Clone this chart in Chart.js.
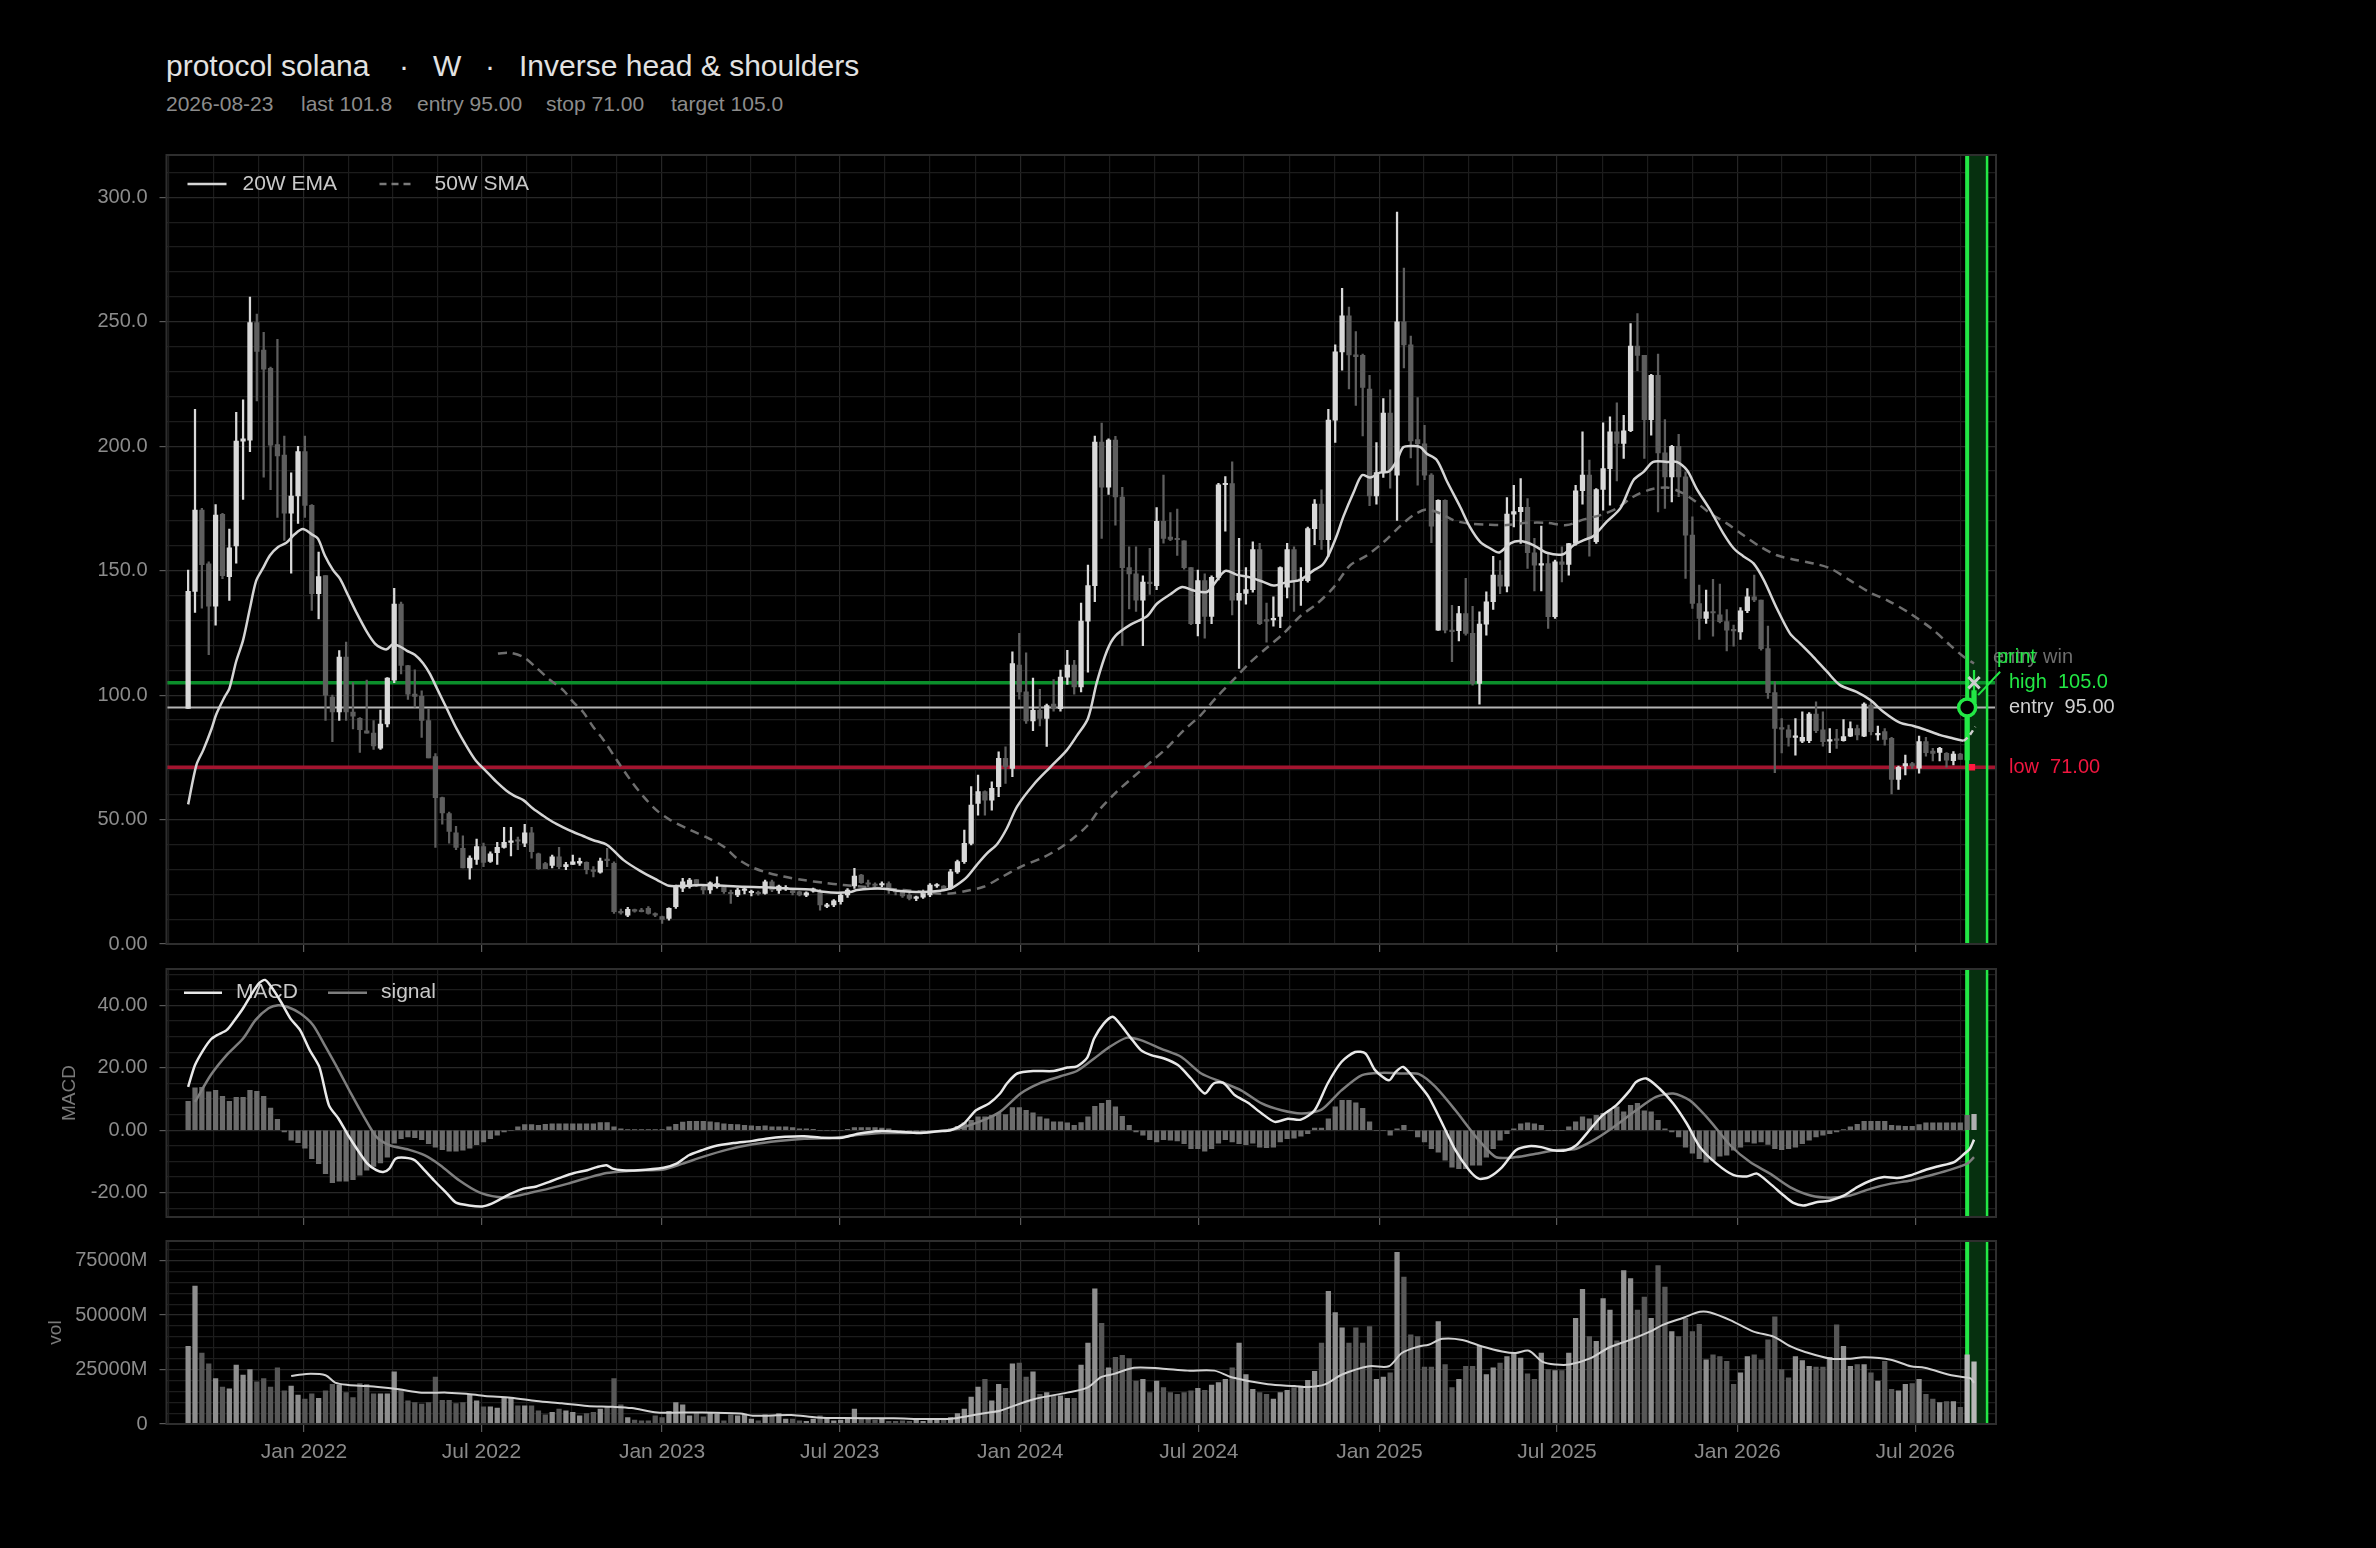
<!DOCTYPE html>
<html>
<head>
<meta charset="utf-8">
<script src="https://cdn.jsdelivr.net/npm/chart.js@4.4.1/dist/chart.umd.min.js"></script>
<style>
  html, body { margin: 0; padding: 0; background: #000; }
  body { width: 2376px; height: 1548px; position: relative; overflow: hidden; font-family: "Liberation Sans", Arial, sans-serif; }
  .t { position: absolute; white-space: pre; }
  .title { font-size: 30px; line-height: 30px; color: #e2e2e2; top: 51px; }
  .sub { font-size: 21px; line-height: 21px; color: #8c8c8c; top: 93px; }
  canvas { position: absolute; left: 0; }
</style>
</head>
<body>
<div class="t title" style="left:166px">protocol solana</div>
<div class="t title" style="left:399px">·</div>
<div class="t title" style="left:433px">W</div>
<div class="t title" style="left:485px">·</div>
<div class="t title" style="left:519px">Inverse head &amp; shoulders</div>
<div class="t sub" style="left:166px">2026-08-23</div>
<div class="t sub" style="left:301px">last 101.8</div>
<div class="t sub" style="left:417px">entry 95.00</div>
<div class="t sub" style="left:546px">stop 71.00</div>
<div class="t sub" style="left:671px">target 105.0</div>

<canvas id="cMain" width="2376" height="830" style="top:140px"></canvas>
<canvas id="cMacd" width="2376" height="270" style="top:960px"></canvas>
<canvas id="cVol" width="2376" height="280" style="top:1230px"></canvas>

<script>
// weekly bars, week 0 = 2021-09-05
const START = '2021-09-05';

const OPEN = [
  94.6, 141.7, 174.3, 152.7, 135.7, 172.6, 147.6, 159.9, 202.0, 202.4,
  249.7, 238.6, 231.3, 200.7, 196.4, 173.1, 180.0, 197.8, 176.2, 140.8,
  148.0, 99.2, 93.2, 115.3, 93.2, 90.7, 85.6, 84.7, 78.7, 88.4,
  106.0, 136.6, 111.9, 100.4, 99.5, 89.8, 75.3, 58.8, 52.4, 44.7,
  38.4, 30.6, 34.0, 39.1, 33.2, 36.7, 38.8, 40.8, 41.8, 40.5,
  44.7, 36.2, 32.3, 31.6, 35.0, 31.1, 32.0, 32.5, 32.8, 29.6,
  28.9, 34.0, 32.4, 13.0, 11.6, 13.5, 13.5, 14.3, 12.0, 11.0,
  10.3, 15.0, 22.4, 23.0, 25.9, 23.0, 21.7, 23.0, 22.8, 20.6,
  19.7, 21.5, 20.6, 20.6, 20.3, 25.0, 21.5, 22.2, 21.5, 21.0,
  19.6, 21.2, 21.2, 15.1, 15.7, 17.0, 19.7, 23.3, 27.7, 24.3,
  23.7, 23.7, 24.3, 21.3, 21.0, 19.7, 18.3, 18.8, 19.7, 23.3,
  23.3, 22.3, 29.0, 33.1, 40.4, 56.5, 61.2, 57.8, 63.2, 74.6,
  70.5, 112.1, 101.3, 89.6, 93.9, 90.6, 96.4, 94.5, 107.2, 112.1,
  103.3, 129.7, 144.0, 201.7, 183.5, 202.5, 179.6, 151.2, 148.7, 138.1,
  145.4, 144.0, 169.8, 163.5, 162.5, 162.0, 151.2, 128.7, 146.0, 131.6,
  147.3, 184.5, 185.0, 138.1, 140.9, 142.4, 158.5, 130.0, 130.2, 131.6,
  143.4, 158.5, 146.0, 146.0, 166.9, 176.7, 162.4, 210.5, 237.9, 252.4,
  236.7, 236.5, 223.0, 180.0, 189.4, 213.3, 188.4, 250.0, 240.7, 202.7,
  201.0, 188.4, 126.1, 178.3, 126.1, 125.9, 132.8, 124.8, 104.7, 128.5,
  137.5, 148.2, 143.8, 172.7, 173.7, 175.4, 157.2, 152.2, 152.8, 131.5,
  153.5, 152.5, 160.9, 182.1, 188.4, 161.6, 182.6, 191.0, 205.8, 201.1,
  206.2, 240.2, 236.5, 210.7, 228.5, 197.3, 187.7, 200.0, 187.7, 164.3,
  136.8, 130.8, 133.5, 132.3, 129.5, 126.1, 125.4, 133.9, 139.5, 138.2,
  118.7, 101.0, 86.6, 86.0, 83.0, 81.5, 81.7, 92.4, 86.0, 81.5,
  82.2, 81.7, 83.5, 86.6, 83.5, 96.0, 84.0, 85.3, 82.6, 66.1,
  71.5, 72.5, 70.6, 81.3, 77.5, 77.0, 76.6, 73.7, 76.3, 74.0,
  97.0
];
const HIGH = [
  150.2, 214.8, 175.0, 153.5, 176.5, 173.0, 166.7, 213.6, 218.6, 259.9,
  253.1, 245.8, 231.8, 242.9, 204.1, 189.3, 200.0, 204.1, 176.5, 157.5,
  148.0, 100.0, 117.9, 121.3, 105.0, 91.0, 106.0, 89.8, 94.0, 107.0,
  142.9, 137.4, 112.0, 110.2, 101.7, 94.6, 76.5, 59.0, 53.0, 47.3,
  43.5, 35.4, 42.2, 40.5, 37.0, 40.8, 46.9, 46.9, 43.0, 48.1,
  46.9, 36.5, 32.8, 35.7, 38.8, 32.8, 35.7, 34.5, 33.0, 31.1,
  34.5, 38.4, 33.0, 14.0, 14.7, 14.0, 14.3, 15.0, 12.5, 11.2,
  14.5, 23.7, 26.4, 26.4, 26.0, 23.7, 25.0, 27.0, 23.3, 21.7,
  22.4, 23.0, 21.7, 21.3, 25.7, 25.7, 23.7, 23.5, 22.2, 21.3,
  21.0, 22.5, 22.0, 16.3, 17.8, 20.3, 22.3, 30.4, 28.0, 25.7,
  24.6, 25.0, 25.0, 22.3, 21.7, 20.6, 19.3, 21.7, 24.3, 24.3,
  23.5, 30.0, 33.7, 45.8, 63.2, 67.9, 61.5, 65.2, 77.2, 79.2,
  117.4, 124.8, 117.0, 106.8, 102.3, 96.4, 106.2, 110.1, 118.0, 114.0,
  137.0, 152.2, 204.1, 209.3, 203.0, 204.0, 183.5, 159.6, 159.6, 147.9,
  159.0, 175.3, 188.4, 173.3, 174.7, 162.0, 151.2, 150.2, 148.7, 147.9,
  185.1, 187.8, 193.7, 163.0, 151.2, 161.6, 161.0, 137.0, 139.5, 151.5,
  161.0, 159.6, 151.2, 167.5, 178.6, 182.5, 214.8, 240.7, 263.4, 255.9,
  246.1, 237.0, 228.5, 201.5, 219.1, 222.7, 294.1, 271.6, 244.2, 219.5,
  208.4, 189.0, 178.5, 178.5, 136.1, 135.7, 146.9, 135.7, 133.5, 141.5,
  155.8, 154.0, 179.4, 184.3, 187.0, 179.0, 163.0, 167.9, 156.6, 154.2,
  159.6, 161.0, 184.3, 205.8, 194.4, 183.0, 209.4, 211.8, 217.4, 212.4,
  249.3, 253.3, 236.5, 228.9, 237.0, 210.7, 200.4, 204.8, 189.7, 171.6,
  144.2, 142.2, 146.5, 144.6, 134.4, 128.1, 135.2, 142.8, 148.2, 138.2,
  127.7, 105.4, 90.6, 88.0, 90.6, 93.3, 93.0, 97.3, 93.3, 86.6,
  86.2, 90.2, 89.3, 88.0, 96.9, 97.7, 87.6, 86.6, 83.0, 71.5,
  75.9, 73.0, 83.5, 83.0, 78.6, 79.0, 76.9, 77.3, 76.6, 97.5,
  110.0
];
const LOW = [
  94.6, 133.2, 134.9, 116.2, 128.1, 146.8, 138.0, 153.0, 178.6, 197.8,
  218.2, 187.6, 182.5, 171.4, 162.1, 149.0, 169.0, 171.4, 134.0, 130.6,
  89.8, 81.3, 89.8, 89.8, 86.4, 77.0, 84.7, 78.2, 78.2, 87.2,
  105.0, 108.5, 98.3, 95.2, 83.0, 74.8, 38.8, 48.1, 40.5, 37.9,
  30.6, 26.0, 32.0, 31.1, 32.8, 32.0, 38.5, 35.4, 37.9, 39.1,
  34.5, 30.0, 30.3, 30.6, 30.3, 29.9, 32.0, 31.6, 28.2, 27.0,
  28.5, 31.1, 12.3, 12.0, 11.0, 12.8, 12.9, 12.0, 11.0, 8.3,
  9.6, 14.3, 21.0, 22.4, 23.0, 20.1, 20.3, 22.4, 20.3, 16.3,
  19.0, 20.1, 19.3, 19.6, 20.0, 21.0, 20.3, 21.5, 19.7, 19.3,
  19.0, 20.8, 13.6, 14.6, 15.0, 16.0, 18.7, 22.3, 24.3, 23.0,
  22.5, 23.0, 20.3, 19.7, 18.7, 17.7, 17.4, 18.3, 19.0, 22.7,
  21.3, 21.9, 28.4, 32.4, 39.8, 51.8, 51.8, 53.8, 59.2, 64.5,
  67.2, 98.4, 88.6, 85.7, 87.6, 79.4, 93.5, 93.5, 104.3, 100.4,
  101.3, 109.2, 137.5, 163.0, 180.6, 168.3, 119.9, 134.6, 133.6, 119.9,
  140.5, 142.4, 161.0, 162.0, 156.1, 150.6, 128.3, 123.8, 122.9, 128.7,
  146.3, 165.9, 132.2, 110.7, 136.5, 141.4, 128.3, 121.3, 127.7, 127.1,
  139.0, 133.6, 136.0, 145.4, 160.4, 158.5, 155.7, 201.5, 230.5, 223.0,
  216.4, 204.1, 176.1, 176.7, 187.5, 183.1, 170.2, 231.5, 195.3, 184.3,
  186.6, 161.2, 126.0, 125.0, 113.4, 121.8, 124.1, 104.0, 96.4, 124.1,
  134.4, 140.8, 141.5, 167.6, 160.9, 150.9, 141.9, 141.9, 126.8, 130.8,
  145.5, 148.2, 160.2, 176.7, 155.8, 160.9, 174.3, 176.3, 186.1, 195.1,
  205.8, 230.3, 195.1, 204.4, 173.6, 175.0, 177.6, 179.7, 146.9, 134.8,
  122.4, 128.8, 123.7, 129.0, 117.8, 119.7, 122.4, 133.1, 137.5, 118.1,
  98.7, 68.8, 76.8, 79.5, 75.9, 80.9, 80.9, 84.9, 79.5, 76.9,
  78.6, 81.5, 83.3, 82.0, 83.3, 84.0, 81.9, 79.9, 60.3, 62.1,
  67.9, 70.5, 68.6, 75.5, 73.6, 73.6, 71.0, 71.9, 74.2, 73.5,
  96.0
];
const CLOSE = [
  141.7, 174.3, 152.4, 135.7, 172.3, 148.0, 159.2, 202.1, 203.0, 249.7,
  238.1, 231.0, 200.4, 196.1, 173.1, 180.0, 197.8, 176.2, 140.8, 147.6,
  100.0, 93.2, 115.3, 93.2, 91.5, 86.1, 84.7, 79.6, 88.4, 106.8,
  136.6, 111.9, 100.4, 99.5, 89.8, 74.8, 58.8, 52.7, 45.2, 38.8,
  30.6, 34.5, 39.1, 32.8, 36.2, 38.8, 40.8, 41.5, 41.3, 44.7,
  37.1, 30.3, 30.3, 35.0, 31.1, 31.9, 33.0, 33.2, 29.9, 29.2,
  33.3, 33.5, 13.0, 12.5, 13.9, 13.2, 13.0, 12.3, 11.6, 9.9,
  14.3, 23.0, 25.0, 25.7, 23.7, 21.7, 24.6, 24.3, 21.0, 20.2,
  21.7, 22.2, 21.0, 20.2, 25.0, 21.7, 23.3, 22.6, 20.6, 19.7,
  20.6, 22.2, 15.7, 15.7, 17.3, 19.7, 21.7, 27.3, 24.6, 24.0,
  23.5, 24.3, 21.7, 20.9, 19.3, 18.3, 18.8, 20.6, 23.7, 23.7,
  21.7, 29.0, 33.1, 40.4, 55.8, 61.2, 57.8, 62.5, 74.6, 71.2,
  112.7, 101.3, 89.6, 93.9, 90.6, 95.8, 94.5, 107.2, 112.1, 103.3,
  129.7, 144.0, 201.7, 183.5, 202.5, 179.6, 151.2, 148.7, 138.1, 145.4,
  144.8, 169.8, 163.0, 162.5, 162.4, 151.2, 128.7, 146.0, 131.6, 147.3,
  184.5, 185.0, 138.1, 140.9, 142.4, 158.5, 128.7, 129.7, 130.7, 151.2,
  158.5, 146.0, 146.5, 166.9, 176.7, 162.4, 210.5, 237.9, 252.4, 236.7,
  236.0, 223.6, 180.0, 189.4, 213.3, 190.4, 250.0, 240.7, 202.1, 201.0,
  188.4, 167.9, 178.3, 126.1, 125.5, 132.8, 124.8, 104.7, 128.5, 137.5,
  148.2, 143.8, 172.7, 173.7, 175.4, 157.2, 152.2, 152.8, 131.5, 153.5,
  152.5, 160.9, 182.1, 188.4, 162.9, 182.6, 191.0, 205.8, 201.1, 206.2,
  240.2, 236.5, 210.7, 228.5, 197.3, 187.7, 200.0, 187.7, 164.3, 136.8,
  130.8, 133.5, 133.0, 129.5, 126.1, 125.8, 133.9, 139.5, 138.2, 118.7,
  101.0, 86.6, 86.3, 83.0, 83.5, 83.0, 92.4, 85.7, 81.3, 82.0,
  81.8, 83.3, 86.6, 84.0, 96.4, 85.3, 84.5, 82.2, 66.1, 71.0,
  72.5, 71.5, 81.3, 76.9, 76.6, 78.6, 73.9, 76.3, 74.2, 97.0,
  101.8
];
// volume in millions
const VOLUME = [
  35600, 63300, 32600, 27600, 20800, 17000, 16200, 27000, 22400, 25000,
  19400, 20800, 17000, 25800, 15200, 17400, 13300, 11400, 13900, 11800,
  15200, 18200, 17900, 14400, 12100, 18500, 18200, 13900, 13900, 13900,
  23900, 15900, 10600, 9800, 9100, 9800, 21500, 10900, 10900, 9400,
  9800, 13600, 10600, 7900, 7900, 7300, 12100, 12100, 8300, 8300,
  8300, 6100, 4200, 5300, 6800, 6100, 5300, 3800, 4800, 5300,
  6800, 7900, 20800, 8800, 3000, 1800, 1500, 1500, 3800, 3000,
  5800, 9800, 8800, 3800, 5300, 3300, 5300, 4500, 1500, 4200,
  3800, 4500, 2300, 1500, 4200, 3800, 4800, 2300, 2300, 1500,
  1200, 2300, 3800, 3000, 1500, 1800, 3000, 6800, 2300, 2700,
  1800, 2300, 1200, 1200, 1500, 1200, 1800, 1200, 2300, 1800,
  1800, 3000, 4800, 6800, 12400, 17000, 20500, 10600, 18200, 16400,
  27600, 28000, 21500, 23900, 13600, 14400, 12900, 12900, 11800, 11800,
  27000, 37100, 62100, 46200, 25800, 30600, 31500, 30000, 19700, 20500,
  14400, 19700, 16700, 14400, 13600, 14400, 15200, 16400, 15500, 17900,
  19000, 20500, 25800, 37100, 22700, 15900, 14400, 13600, 11400, 14400,
  15500, 16700, 17400, 20000, 24200, 37100, 60900, 51200, 44200, 37100,
  44200, 37100, 44700, 20500, 21500, 23500, 78800, 67400, 40900, 40100,
  26100, 26100, 47000, 27300, 16700, 20500, 26500, 26500, 35600, 22700,
  25800, 28000, 31000, 32600, 30300, 23000, 20500, 32600, 25000, 24500,
  24500, 32600, 48500, 61800, 40100, 37900, 57600, 52300, 38200, 70400,
  66700, 52300, 58300, 48500, 72700, 62900, 42400, 40100, 48500, 42400,
  45800, 29500, 31800, 31000, 28800, 18200, 23500, 31000, 31800, 29500,
  38600, 49200, 25000, 21200, 31000, 29100, 26500, 26100, 26100, 30600,
  45500, 35600, 26500, 27300, 27300, 23500, 19700, 28800, 15900, 15200,
  18200, 18500, 20500, 13600, 11400, 9800, 10300, 10300, 7600, 31800,
  28500
];
const MACD_HIST = [
  9.3, 13.6, 13.8, 12.3, 12.8, 10.9, 9.3, 10.6, 10.6, 12.8,
  12.5, 10.9, 7.1, 3.5, -0.5, -3.2, -4.0, -5.7, -9.1, -10.7,
  -13.9, -16.8, -16.3, -16.3, -15.8, -14.4, -12.8, -11.6, -10.5, -8.6,
  -4.1, -2.7, -2.1, -2.4, -3.0, -4.3, -5.4, -6.2, -6.7, -6.7,
  -6.4, -5.7, -4.6, -3.7, -2.7, -1.6, -0.5, 0, 1.1, 1.8,
  1.8, 1.6, 1.9, 2.1, 2.1, 2.1, 2.1, 2.1, 2.1, 2.1,
  2.5, 2.5, 1.1, 0.5, 0.2, 0.2, 0.2, 0.2, 0.2, 0.2,
  1.1, 1.9, 2.6, 2.9, 2.9, 2.9, 2.7, 2.5, 2.1, 1.9,
  1.8, 1.6, 1.4, 1.3, 1.4, 1.1, 1.1, 1.1, 0.9, 0.5,
  0.5, 0.3, 0, 0, 0, 0, 0.3, 0.9, 0.9, 0.9,
  0.9, 0.7, 0.5, -0.2, -0.5, -0.7, -0.9, -0.9, -0.5, -0.3,
  0, 0.5, 1.3, 2.4, 3.2, 4.3, 4.3, 4.8, 5.4, 5.0,
  7.3, 7.3, 6.4, 5.6, 4.3, 3.7, 2.7, 2.7, 2.4, 1.6,
  2.5, 4.3, 7.7, 8.6, 9.6, 7.5, 4.5, 1.6, -0.5, -1.6,
  -3.0, -3.7, -3.0, -3.2, -3.4, -4.3, -5.9, -5.9, -6.7, -5.9,
  -4.1, -3.0, -3.7, -4.3, -4.6, -4.1, -5.4, -5.6, -5.4, -3.7,
  -2.7, -2.5, -1.9, -1.1, 0.7, 0.7, 3.7, 7.5, 9.6, 9.6,
  8.8, 7.0, 2.7, 0, 0, -1.6, 0.5, 1.6, 0, -2.1,
  -3.7, -5.9, -7.0, -9.6, -11.8, -12.3, -12.3, -11.2, -11.2, -8.6,
  -5.9, -3.2, -1.1, 0.5, 2.1, 2.4, 2.1, 1.6, 0, 0,
  0, 1.1, 2.7, 4.3, 3.7, 4.8, 5.4, 6.4, 7.5, 5.9,
  8.0, 8.6, 6.2, 5.9, 3.2, 0.5, -0.5, -2.1, -5.4, -7.3,
  -9.1, -10.2, -9.6, -8.3, -8.0, -6.4, -5.4, -3.7, -4.1, -3.7,
  -4.5, -5.9, -6.2, -5.9, -5.4, -4.3, -3.2, -2.1, -1.6, -1.1,
  -0.5, 0.2, 1.1, 1.9, 2.9, 2.9, 2.9, 2.9, 1.6, 1.4,
  1.3, 1.3, 1.8, 2.4, 2.4, 2.4, 2.4, 2.4, 2.4, 4.8,
  5.1
];

// indicator lines as [week, value]
const EMA20 = [[0,56.1],[1.2,71.9],[2.2,77.9],[3.4,86.4],[4.1,92.3],[5.3,99.2],[6,102.6],[7,113.6],[8,122.1],[9,134.9],[9.9,145.9],[10.9,151],[11.9,156.1],[13.1,159.5],[14.3,161.2],[15.5,164.6],[16.7,166.7],[18,164.6],[18.9,162.9],[19.9,156.1],[21.1,150.2],[22.1,146.8],[23.3,140],[24.5,133.2],[26,125.5],[27.2,120.7],[28.1,119],[28.9,118.4],[29.8,120.4],[30.8,119.6],[31.8,117.9],[33,116.2],[34.2,112.8],[35.2,108.5],[36.1,103.4],[37.6,94.9],[39.1,86.4],[40.5,79.6],[41.9,73.6],[43.4,69.4],[44.9,65.1],[46.3,61.7],[47.5,59.5],[48.8,57.8],[50.2,54.4],[51.7,51.5],[53.1,49],[54.6,46.9],[56,45.1],[57.5,43.4],[58.9,41.8],[61,39.8],[63.4,33.7],[65.8,29.4],[68.3,25.7],[70,23.4],[71.7,23.3],[74.6,23.7],[78,23.4],[80.9,23],[83.8,22.8],[87.7,22.2],[90.6,21.9],[92.5,21],[94.5,20.6],[96.4,20.9],[97.4,21.7],[99.3,22.2],[101.3,22.2],[103.2,21.4],[105.1,21],[107.1,20.9],[109.5,21.4],[111,22.3],[111.9,23.7],[113.4,27],[114.8,31.7],[116.3,36.4],[117.8,40.2],[119.2,46.5],[120.7,55.3],[123.1,64.1],[125.5,71],[127.9,77.8],[129.4,83.7],[131,90.6],[132.3,105.2],[133.8,118],[135,123.8],[137.2,128.3],[139.6,131.7],[141,136.6],[143,140.5],[144.7,143.4],[146.4,142],[148.3,141.4],[149.3,144.4],[151,149.9],[152.7,148.3],[154.6,147.3],[156.6,145.4],[158,144],[160,145.4],[161.9,146.3],[163.9,150.2],[165.1,152.2],[166,156.1],[167.2,163.9],[168.2,171.8],[169.7,181.6],[170.9,188.4],[172.1,187.4],[173.5,189.4],[174.8,189.8],[176,194.3],[176.9,199.6],[178.4,200.1],[179.4,199.6],[180.3,197.1],[181.8,194.4],[183.3,185.7],[185.2,175.6],[186.6,167.6],[188.1,161.6],[189.6,158.9],[190.9,157.3],[192.5,161],[194,161.9],[195.9,160.2],[197.8,157.2],[200.2,156.6],[201.7,160.2],[203.2,162.3],[204.6,163.9],[206.5,169.6],[208.5,175],[210.4,186.3],[211.9,189.7],[213.3,193.7],[215.3,193.7],[216.7,193.7],[218.2,190.4],[219.6,183],[221.6,174.3],[223.5,165],[225,159],[226.4,155.8],[227.9,152.9],[229.4,146.2],[231.3,134.8],[233.2,124.8],[234.7,120.7],[236.6,115.4],[238.6,109.4],[240.5,104],[242.9,101.3],[244.9,98],[246.8,93.3],[249.2,88.9],[251.2,87.6],[253.1,85.9],[255.1,83.9],[257,82.6],[258.5,81.6]];
const EMA20_TAIL = [[258.5,81.6],[259.2,83.3],[260.2,87.3]];
const SMA50 = [[45.1,116.7],[46.8,117],[48.8,115.3],[50.7,111],[52.6,106.3],[54.6,102],[56,97.4],[57.5,93.2],[58.9,87.5],[60.5,81.9],[62.4,73.9],[64.4,65.9],[66.3,59.2],[68.3,53.5],[70.2,49.8],[73.1,45.8],[75.5,42.8],[78,39.1],[79.9,34.4],[81.9,31.1],[83.8,29.1],[86.7,27.1],[89.6,25.7],[92.5,24.6],[95.4,23.7],[98.3,23],[101.3,22.3],[104.2,21.7],[107.1,20.9],[109,20.3],[111,20.3],[113.4,21.4],[115.8,23],[118.2,26.5],[121.2,31],[124.5,34.8],[127,38.7],[128.9,42.6],[130.9,47.5],[132.8,54.4],[135.2,61.2],[137.6,67.1],[140.1,73],[142.5,78.8],[144.9,85.7],[147.4,91.9],[149.8,99.4],[152.2,106.2],[154.6,113.1],[157,118.9],[159.5,124.8],[161.9,131.7],[164.3,136.6],[166.8,143.4],[169.2,152.2],[171.6,156.1],[174.1,161.6],[176.5,168],[178.4,172.3],[180.3,174.6],[182.3,173],[184.2,170.3],[186.2,169],[189.1,168.5],[192,168.3],[194.9,169.2],[197.8,169.2],[200.7,168.3],[203.2,170.6],[205.6,172.3],[208,175],[210.4,179.7],[212.9,182.6],[215.3,183.4],[217.2,181.7],[219.2,178.3],[221.6,173],[224,169],[226.4,164.3],[228.9,159.6],[231.3,156.2],[233.7,154.5],[236.6,152.9],[239,151],[242,146],[245,141],[247.3,138.2],[250.7,132.8],[254.1,126.1],[256.5,120.1],[258.5,115.4],[260,112.7]];
const MACD_LINE = [[0,13.9],[1,20.9],[2.2,25.7],[3.3,29.1],[4.2,30.5],[5.6,32.1],[6.6,34.8],[8,39.1],[9.3,43.9],[10.3,47.1],[11.2,48.2],[12.1,46],[13.5,41.2],[14.9,35.8],[16.3,32.1],[17.7,25.7],[19.1,20.3],[20.5,8],[21.9,3.7],[23.3,-1.6],[24.7,-6.4],[26.1,-10.7],[27.4,-12.8],[28.4,-13.4],[29.3,-12.3],[30.2,-9.1],[31.6,-8.8],[33,-9.6],[34.4,-12.8],[35.8,-16.1],[37.7,-20.3],[39,-23.2],[40.9,-24.1],[42.8,-24.4],[44.2,-23.5],[45.6,-21.9],[47,-20.3],[48.8,-18.7],[50.7,-18],[52.5,-16.6],[54.4,-15],[56.2,-13.7],[58.1,-12.8],[59.5,-11.8],[60.9,-11.2],[61.8,-12.3],[63.2,-12.8],[65.5,-12.8],[69.2,-12],[71.1,-10.7],[72.9,-8],[74.8,-6.4],[76.6,-5.1],[79.4,-4.1],[82.2,-3.4],[84.1,-2.7],[86.9,-2.1],[89.7,-1.9],[92.4,-2.4],[95.2,-2.4],[97.5,-1.1],[100.8,-0.2],[103.6,-0.5],[106.4,-0.9],[109.2,-0.3],[111,0],[112.9,2.1],[114.7,6.4],[116.6,8.6],[118.2,11.8],[119.2,15],[120.7,18.2],[123.1,19],[126,19],[128,20.1],[129.4,20.5],[130.9,23.3],[131.9,29.4],[133.3,34.2],[134.6,36.4],[135.8,33.7],[137.2,29.7],[138.7,25.7],[140.2,24.1],[142.1,23],[144.1,20.9],[146,16.6],[148,11.8],[149.3,15],[150.7,15.2],[152.4,11.2],[154.3,8.8],[156.3,5.4],[158.2,2.7],[160.1,3.7],[162,3.4],[164,6.4],[165.9,15],[167.9,21.9],[169.9,25.1],[171.4,24.6],[172.8,19.3],[174.8,16],[175.8,18.7],[176.9,20.3],[178.7,16],[180.6,10.7],[182.6,2.1],[184.5,-6.4],[186.5,-12.8],[187.9,-15.5],[189.4,-15],[191.3,-11.8],[193.3,-6.4],[195.2,-5.1],[197,-5.4],[198.7,-6.4],[200.6,-6.4],[202.1,-4.8],[204,0],[205.9,4.8],[207.9,8],[209.9,12.8],[210.8,15.5],[212.3,16.6],[214.2,13.4],[216.2,8.6],[218.2,2.1],[220.1,-5.4],[222.5,-10.7],[225,-14.4],[226.9,-14.8],[228.4,-13.9],[230.3,-17.1],[232.3,-20.9],[233.7,-23.3],[235.2,-24.1],[237.2,-23],[239.1,-22.5],[241.1,-20.9],[243,-18.2],[245,-16.1],[246.9,-15],[248.8,-15.3],[250.8,-14.4],[252.8,-12.8],[254.7,-11.6],[257.1,-10.2],[258.6,-7.5],[259.4,-5.9],[260,-3]];
const SIGNAL_LINE = [[1,9.1],[3.3,17.7],[5.6,24.1],[8,29.4],[9.8,35.3],[11.7,39.1],[13.1,40.1],[14.4,39.6],[16.3,37.5],[18.2,33.7],[20,26.8],[21.9,19.3],[23.7,11.8],[25.6,4.3],[27.4,-2.1],[29.3,-4.8],[32.1,-6.2],[34.4,-8],[36.7,-11.2],[39.5,-16.1],[42.3,-19.8],[45.1,-21.4],[47,-21.4],[49.7,-20.1],[52.5,-18.7],[55.3,-17.1],[58.1,-15.3],[60.9,-13.7],[63.7,-13.1],[66.5,-12.8],[69.2,-12.6],[72,-10.7],[74.8,-8.6],[78.5,-6.2],[82.2,-4.5],[85.9,-3.4],[89.7,-2.7],[93.4,-2.5],[97.1,-1.6],[100.8,-0.9],[104.5,-0.9],[108.2,-0.5],[112,0.5],[115.7,3.2],[118.2,5.9],[121.2,11.8],[124.1,15.2],[127,17.3],[129.4,19],[131.9,23],[134.2,26.8],[136.7,29.7],[138.7,28.9],[141.6,26.2],[144.6,23.5],[147.5,18.2],[150.4,15.5],[153.3,12.8],[156.3,8.6],[159.2,6.4],[162.1,5.4],[165,6.6],[167.9,12.8],[170.9,17.7],[173.8,18.4],[176.7,18.2],[179.2,18],[181.6,13.9],[184.5,6.4],[187.5,-2.1],[190.4,-8.6],[193.3,-8.6],[196.2,-7.5],[199.1,-6.4],[202.1,-5.9],[205,-2.7],[207.9,1.6],[210.8,6.4],[213.7,10.7],[216.2,11.8],[218.6,9.6],[221.5,3.2],[224.5,-4.8],[227.4,-10.2],[230.3,-13.9],[233.2,-18.2],[236.2,-20.9],[239.1,-21.6],[242,-20.9],[245,-18.7],[247.9,-17.1],[250.8,-16.1],[253.7,-14.4],[256.6,-12.6],[259,-10.7],[260,-8.6]];
const VOL_MA = [[15,22000],[17.2,23000],[20,22400],[21.4,19000],[23.3,17900],[26,17400],[28.4,16700],[30.7,15900],[34,14400],[37.7,14400],[40.5,13900],[43.2,12900],[47,12100],[50.7,10600],[54.4,9500],[58.1,8300],[61.8,7900],[64.6,7300],[68.3,5300],[74.8,5300],[80.4,4800],[82.2,3800],[87.8,4100],[91.5,3000],[95.2,2700],[102.7,2600],[107.3,2300],[111,2400],[113.8,3800],[116.6,5300],[118.2,6100],[123.1,11400],[128,14400],[130.9,16700],[132.9,21500],[134.8,23000],[137.7,25800],[141.6,25500],[145.5,24500],[149.4,24500],[151.9,21500],[157.2,18200],[161.1,17400],[163.1,17000],[165.5,18200],[168,22700],[171.9,26500],[174.8,26500],[176.7,32600],[179.2,35600],[180.6,36400],[182.6,39100],[185.5,38600],[188.4,35600],[191.3,33300],[193.3,32600],[195.2,33600],[197.2,28500],[199.1,27300],[201.1,27300],[204,30000],[206.9,35100],[209.9,38600],[212.8,42400],[214.7,45500],[217.7,48800],[220.1,51500],[221.6,51200],[224.5,47700],[227.9,42400],[230.8,40100],[233.3,35600],[235.2,33300],[239.1,30000],[242,30000],[244,30600],[247.9,29500],[250.8,26500],[252.8,25800],[256.7,22400],[258.6,21500],[259.5,20900],[260,18900]];

// axes
const X_TICK_DATES = ['2022-01-01','2022-07-01','2023-01-01','2023-07-01','2024-01-01','2024-07-01','2025-01-01','2025-07-01','2026-01-01','2026-07-01'];
const X_TICK_LABELS = ['Jan 2022','Jul 2022','Jan 2023','Jul 2023','Jan 2024','Jul 2024','Jan 2025','Jul 2025','Jan 2026','Jul 2026'];
const PRICE_TICKS = [0, 50, 100, 150, 200, 250, 300];
const PRICE_TICK_LABELS = ['0.00','50.00','100.0','150.0','200.0','250.0','300.0'];
const MACD_TICKS = [-20, 0, 20, 40];
const MACD_TICK_LABELS = ['-20.00','0.00','20.00','40.00'];
const VOL_TICKS = [0, 25000, 50000, 75000];
const VOL_TICK_LABELS = ['0','25000M','50000M','75000M'];

// pattern levels
const ENTRY = 95.0;
const STOP = 71.0;
const TARGET = 105.0;
const SIGNAL_WEEK = 259;
const LAST_WEEK = 260;
const BAND_END = 261.9;
const STOP_MARK_X = 259.7;
const CALLOUT = [[260.6, 100], [263.8, 109.4]];

const X_MIN = -3.15, X_MAX = 263.2;
const FONT = '"Liberation Sans", Arial, sans-serif';
const GREEN = '#22e845';
const Y_AXIS_W = 110;

Chart.defaults.font.family = FONT;

const WEEK_MS = 7 * 864e5;
const toWeek = d => (Date.parse(d) - Date.parse(START)) / WEEK_MS;
const majorX = X_TICK_DATES.map(toWeek);

// grid: majors plus three quarter-steps in between
const anchors = ['2021-07-01', ...X_TICK_DATES, '2027-01-01'].map(toWeek);
const xGrid = [];
for (let i = 0; i < anchors.length - 1; i++) {
  for (let k = 0; k < 4; k++) {
    const v = anchors[i] + (anchors[i + 1] - anchors[i]) * k / 4;
    if (v > X_MIN && v < X_MAX) xGrid.push(v);
  }
}
const isMajorX = v => majorX.some(m => Math.abs(m - v) < 1e-6);

const pts = arr => arr.map(p => ({ x: p[0], y: p[1] }));
const isUp = i => CLOSE[i] >= OPEN[i];
const candleColor = i => i >= SIGNAL_WEEK ? GREEN : (isUp(i) ? '#d9d9d9' : '#5e5e5e');

function xScale(showLabels, h) {
  return {
    type: 'linear', min: X_MIN, max: X_MAX, bounds: 'data', offset: false,
    afterBuildTicks: s => { s.ticks = xGrid.map(v => ({ value: v })); },
    afterFit: s => { s.height = h; s.paddingLeft = 0; s.paddingRight = 0; },
    border: { display: false },
    grid: {
      offset: false, drawTicks: true, tickLength: 8, lineWidth: 1.2,
      color: c => (c.tick && isMajorX(c.tick.value)) ? '#262626' : '#1c1c1c',
      tickColor: c => (c.tick && isMajorX(c.tick.value)) ? '#5a5a5a' : 'rgba(0,0,0,0)'
    },
    ticks: {
      display: showLabels, autoSkip: false, maxRotation: 0, padding: 8,
      color: '#8a8a8a', font: { size: 21 },
      callback: v => { const i = majorX.findIndex(m => Math.abs(m - v) < 1e-6); return i < 0 ? '' : X_TICK_LABELS[i]; }
    }
  };
}

function yScale(min, max, step, majors, labels) {
  return {
    type: 'linear', min, max, bounds: 'data',
    afterBuildTicks: s => {
      const t = [];
      for (let k = Math.ceil(min / step); k * step <= max; k++) t.push({ value: k * step });
      s.ticks = t;
    },
    afterFit: s => { s.width = Y_AXIS_W; s.paddingTop = 0; s.paddingBottom = 0; },
    border: { display: false },
    grid: {
      drawTicks: true, tickLength: 7, lineWidth: 1.2,
      color: c => (c.tick && majors.includes(c.tick.value)) ? '#282828' : '#1c1c1c',
      tickColor: c => (c.tick && majors.includes(c.tick.value)) ? '#5a5a5a' : 'rgba(0,0,0,0)'
    },
    ticks: {
      autoSkip: false, padding: 12, color: '#8c8c8c', font: { size: 20 },
      callback: v => { const i = majors.indexOf(v); return i < 0 ? '' : labels[i]; }
    }
  };
}

function line(ctx, x0, y0, x1, y1, color, width, dash) {
  ctx.save();
  ctx.strokeStyle = color; ctx.lineWidth = width;
  ctx.setLineDash(dash || []);
  ctx.beginPath(); ctx.moveTo(x0, y0); ctx.lineTo(x1, y1); ctx.stroke();
  ctx.restore();
}
function text(ctx, s, x, y, color, size, baseline) {
  ctx.save();
  ctx.fillStyle = color; ctx.font = size + 'px ' + FONT;
  ctx.textAlign = 'left'; ctx.textBaseline = baseline || 'middle';
  ctx.fillText(s, x, y);
  ctx.restore();
}

// signal band, level lines (main only), legends, frame, y title
function panelPlugin(opts) {
  return {
    id: 'panel',
    beforeDatasetsDraw(chart) {
      const { ctx, chartArea: a, scales: { x, y } } = chart;
      const x0 = x.getPixelForValue(SIGNAL_WEEK), x1 = x.getPixelForValue(BAND_END);
      ctx.save();
      ctx.fillStyle = '#06300f';
      ctx.fillRect(x0, a.top, x1 - x0, a.bottom - a.top);
      ctx.restore();
      if (opts.levels) {
        line(ctx, a.left, y.getPixelForValue(TARGET), a.right, y.getPixelForValue(TARGET), '#0b8f2b', 3.5);
        line(ctx, a.left, y.getPixelForValue(ENTRY), a.right, y.getPixelForValue(ENTRY), '#b4b4b4', 2);
        line(ctx, a.left, y.getPixelForValue(STOP), a.right, y.getPixelForValue(STOP), '#a3142f', 3.5);
      }
      line(ctx, x0, a.top, x0, a.bottom, GREEN, 4);
      line(ctx, x1, a.top, x1, a.bottom, GREEN, 2.5);
      (opts.legend || []).forEach(it => {
        const ly = a.top + opts.legendY;
        line(ctx, a.left + it.x0, ly, a.left + it.x1, ly, it.color, 2.5, it.dash);
        text(ctx, it.label, a.left + it.tx, ly, '#c9c9c9', 21);
      });
    },
    afterDatasetsDraw(chart) {
      const { ctx, chartArea: a } = chart;
      ctx.save();
      ctx.strokeStyle = '#2e2e2e'; ctx.lineWidth = 2;
      ctx.strokeRect(a.left, a.top, a.right - a.left, a.bottom - a.top);
      ctx.restore();
      if (opts.yTitle) {
        ctx.save();
        ctx.translate(opts.yTitleX, (a.top + a.bottom) / 2);
        ctx.rotate(-Math.PI / 2);
        ctx.fillStyle = '#7a7a7a'; ctx.font = '19px ' + FONT;
        ctx.textAlign = 'center'; ctx.textBaseline = 'alphabetic';
        ctx.fillText(opts.yTitle, 0, 0);
        ctx.restore();
      }
    }
  };
}

const calloutPlugin = {
  id: 'callout',
  afterDraw(chart) {
    const { ctx, chartArea: a, scales: { x, y } } = chart;
    const lx = a.right + 13;
    text(ctx, 'high  ' + TARGET.toFixed(1), lx, y.getPixelForValue(TARGET), GREEN, 20);
    text(ctx, 'entry  ' + ENTRY.toFixed(2), lx, y.getPixelForValue(ENTRY), '#d0d0d0', 20);
    text(ctx, 'low  ' + STOP.toFixed(2), lx, y.getPixelForValue(STOP), '#f0163f', 20);
    const by = y.getPixelForValue(TARGET) - 20;
    text(ctx, 'entry win', a.right - 3, by, '#6e6e6e', 20, 'alphabetic');
    text(ctx, 'print', a.right + 1, by, GREEN, 20, 'alphabetic');
    line(ctx, x.getPixelForValue(CALLOUT[0][0]), y.getPixelForValue(CALLOUT[0][1]),
         x.getPixelForValue(CALLOUT[1][0]), y.getPixelForValue(CALLOUT[1][1]), GREEN, 2);
  }
};

const common = padding => ({
  responsive: false, animation: false, events: [],
  layout: { padding },
  plugins: { legend: { display: false }, tooltip: { enabled: false } }
});
const LEFT_PAD = 166.5 - Y_AXIS_W;

// price panel
new Chart(document.getElementById('cMain'), {
  type: 'bar',
  data: {
    datasets: [
      { type: 'scatter', data: [{ x: SIGNAL_WEEK, y: ENTRY }], pointStyle: 'circle', pointRadius: 8.5,
        pointBorderWidth: 3.5, pointBorderColor: GREEN, pointBackgroundColor: '#000', order: 0 },
      { type: 'scatter', data: [{ x: LAST_WEEK, y: TARGET }], pointStyle: 'crossRot', pointRadius: 8,
        pointBorderWidth: 3, pointBorderColor: '#cfcfcf', order: 0 },
      { type: 'scatter', data: [{ x: STOP_MARK_X, y: STOP }], pointStyle: 'rect', pointRadius: 4.5,
        pointBorderWidth: 0, pointBackgroundColor: '#ff1a40', order: 0 },
      { type: 'line', data: pts(EMA20), borderColor: '#d4d4d4', borderWidth: 2.5, pointRadius: 0, tension: 0.3, order: 1 },
      { type: 'line', data: pts(EMA20_TAIL), borderColor: '#cfcfcf', borderWidth: 2.5, borderDash: [5, 4], pointRadius: 0, tension: 0.3, order: 1 },
      { type: 'line', data: pts(SMA50), borderColor: '#6e6e6e', borderWidth: 2.5, borderDash: [9, 6], pointRadius: 0, tension: 0.3, order: 1 },
      { type: 'bar', data: OPEN.map((o, i) => ({ x: i, y: [o, CLOSE[i]] })),
        backgroundColor: c => candleColor(c.dataIndex), borderWidth: 0,
        barThickness: 4.6, maxBarThickness: 4.6, minBarLength: 1.5, grouped: false, order: 2 },
      { type: 'bar', data: LOW.map((l, i) => ({ x: i, y: [l, HIGH[i]] })),
        backgroundColor: c => candleColor(c.dataIndex), borderWidth: 0,
        barThickness: 1.6, maxBarThickness: 1.6, grouped: false, order: 3 }
    ]
  },
  options: Object.assign(common({ left: LEFT_PAD, right: 380, top: 15, bottom: 16 }), {
    scales: { x: xScale(false, 10), y: yScale(0, 317, 10, PRICE_TICKS, PRICE_TICK_LABELS) }
  }),
  plugins: [panelPlugin({
    levels: true, legendY: 29,
    legend: [
      { x0: 21, x1: 60, tx: 76, label: '20W EMA', color: '#d6d6d6' },
      { x0: 213, x1: 247, tx: 268, label: '50W SMA', color: '#7a7a7a', dash: [7, 5] }
    ]
  }), calloutPlugin]
});

// MACD panel
new Chart(document.getElementById('cMacd'), {
  type: 'bar',
  data: {
    datasets: [
      { type: 'line', data: pts(MACD_LINE), borderColor: '#e8e8e8', borderWidth: 2.5, pointRadius: 0, tension: 0.25, order: 0 },
      { type: 'line', data: pts(SIGNAL_LINE), borderColor: '#7e7e7e', borderWidth: 2.5, pointRadius: 0, tension: 0.25, order: 1 },
      { type: 'bar', data: MACD_HIST.map((h, i) => ({ x: i, y: h })),
        backgroundColor: c => c.dataIndex > SIGNAL_WEEK ? '#b0b0b0' : '#6c6c6c', borderWidth: 0,
        barThickness: 4.6, maxBarThickness: 4.6, grouped: false, order: 2 }
    ]
  },
  options: Object.assign(common({ left: LEFT_PAD, right: 380, top: 9, bottom: 3 }), {
    scales: { x: xScale(false, 10), y: yScale(-27.8, 51.7, 5, MACD_TICKS, MACD_TICK_LABELS) }
  }),
  plugins: [panelPlugin({
    legendY: 23.7, yTitle: 'MACD', yTitleX: 75,
    legend: [
      { x0: 17.5, x1: 55.5, tx: 69.5, label: 'MACD', color: '#e8e8e8' },
      { x0: 161.5, x1: 200.5, tx: 214.5, label: 'signal', color: '#7e7e7e' }
    ]
  })]
});

// volume panel
new Chart(document.getElementById('cVol'), {
  type: 'bar',
  data: {
    datasets: [
      { type: 'line', data: pts(VOL_MA), borderColor: '#d0d0d0', borderWidth: 2, pointRadius: 0, tension: 0.3, order: 0 },
      { type: 'bar', data: VOLUME.map((v, i) => ({ x: i, y: v })),
        backgroundColor: c => c.dataIndex >= SIGNAL_WEEK ? '#b8b8b8' : (isUp(c.dataIndex) ? '#8e8e8e' : '#575757'),
        borderWidth: 0, barThickness: 4.6, maxBarThickness: 4.6, grouped: false, order: 1 }
    ]
  },
  options: Object.assign(common({ left: LEFT_PAD, right: 380, top: 11, bottom: 41 }), {
    scales: { x: xScale(true, 45), y: yScale(0, 84000, 5000, VOL_TICKS, VOL_TICK_LABELS) }
  }),
  plugins: [panelPlugin({ yTitle: 'vol', yTitleX: 61 })]
});
</script>
</body>
</html>
